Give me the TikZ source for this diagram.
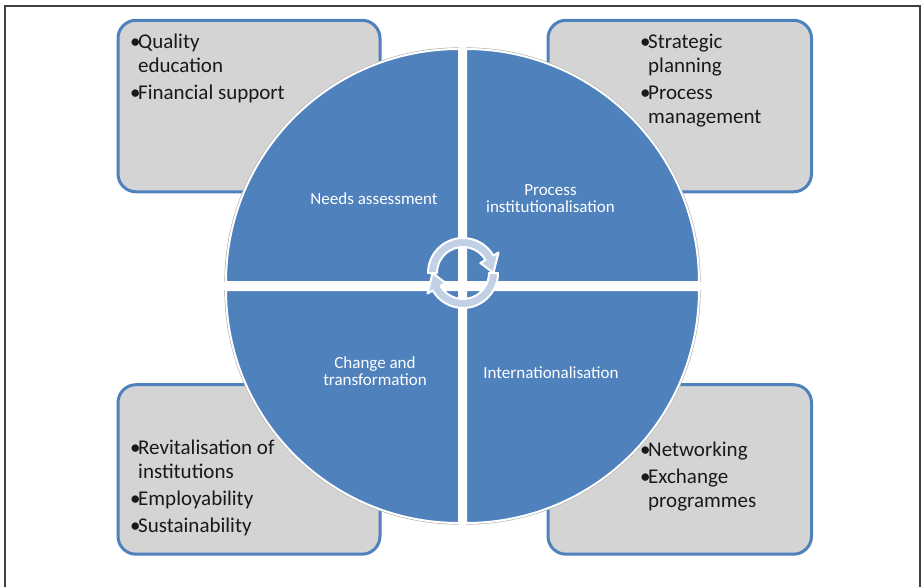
\documentclass[tikz,border=0pt]{standalone}
\usepackage{fontspec}
\setmainfont{Carlito}
\usetikzlibrary{calc}
\definecolor{qblue}{HTML}{4F81BD}
\definecolor{boxblue}{HTML}{4F81BD}
\definecolor{boxgray}{HTML}{D4D4D4}
\definecolor{arrowfill}{HTML}{C2D0E5}
\definecolor{framegray}{HTML}{404040}
\tikzset{
  infobox/.style={draw=boxblue, line width=3pt, fill=boxgray, rounded corners=18pt, inner sep=0pt},
  quad/.style={fill=qblue, draw=white, line width=2pt},
  quadshadow/.style={draw=black!30, line width=3.2pt},
  boxtext/.style={anchor=base west, inner sep=0pt, text=black!90, font=\fontsize{21}{24}\selectfont},
  quadlabel/.style={anchor=base, inner sep=0pt, text=white, font=\fontsize{17}{17.5}\selectfont},
  cycarrow/.style={fill=arrowfill, draw=white, line width=2pt, line join=round}
}
\newcommand{\bul}{\makebox[8pt][l]{•}}
\begin{document}
\begin{tikzpicture}[x=1pt,y=-1pt]
\useasboundingbox (0,0) rectangle (922,587);
\fill[white] (0,0) rectangle (922,587);
\draw[line width=1.3pt, framegray] (5,587) -- (5,6) -- (920,6) -- (920,587);

% boxes
\node[infobox, minimum width=262pt, minimum height=171.5pt, anchor=north west] (tlbox) at (116.5,18.8) {};
\node[infobox, minimum width=263.5pt, minimum height=171.5pt, anchor=north west] (trbox) at (546.5,18.8) {};
\node[infobox, minimum width=262pt, minimum height=169.5pt, anchor=north west] (blbox) at (116.5,383.2) {};
\node[infobox, minimum width=263.5pt, minimum height=169.5pt, anchor=north west] (brbox) at (546.5,383.2) {};

% box texts
\node[boxtext] (tlt) at (130,48) {\begin{tabular}[t]{@{}l@{}l@{}}\bul&Quality\\&education\\[3pt]\bul&Financial support\end{tabular}};
\node[boxtext] (trt) at (640,48) {\begin{tabular}[t]{@{}l@{}l@{}}\bul&Strategic\\&planning\\[3pt]\bul&Process\\&management\end{tabular}};
\node[boxtext] (blt) at (130,454) {\begin{tabular}[t]{@{}l@{}l@{}}\bul&Revitalisation of\\&institutions\\[3pt]\bul&Employability\\[3pt]\bul&Sustainability\end{tabular}};
\node[boxtext] (brt) at (640,456) {\begin{tabular}[t]{@{}l@{}l@{}}\bul&Networking\\[3pt]\bul&Exchange\\&programmes\end{tabular}};

% quadrants
\foreach \cx/\cy/\sa in {459/282/180, 466/282/270, 466/290/0, 459/290/90}{
  \draw[quadshadow] (\cx,\cy) ++(\sa:233) arc[start angle=\sa, end angle=\sa+90, radius=233];
  \path[quad] (\cx,\cy) -- ++(\sa:233) arc[start angle=\sa, end angle=\sa+90, radius=233] -- cycle;
}

% quadrant labels
\node[quadlabel] (needs) at (374,204) {Needs assessment};
\node[quadlabel] (proc) at (550.5,195) {\begin{tabular}[t]{@{}c@{}}Process\\institutionalisation\end{tabular}};
\node[quadlabel] (change) at (375,368) {\begin{tabular}[t]{@{}c@{}}Change and\\transformation\end{tabular}};
\node[quadlabel] (intl) at (551,378) {Internationalisation};

% circular arrows
\coordinate (C) at (463,273);
\path[cycarrow] ($(C)+(-180:35)$) arc[start angle=-180, end angle=-30, radius=35]
  -- ($(C)+(-30:41)$) -- ($(C)+(0:30.5)$) -- ($(C)+(-30:20)$) -- ($(C)+(-30:26)$)
  arc[start angle=-30, end angle=-180, radius=26] -- cycle;
\begin{scope}[rotate around={180:(462.5,285.5)}]
\path[cycarrow] ($(C)+(-180:35)$) arc[start angle=-180, end angle=-30, radius=35]
  -- ($(C)+(-30:41)$) -- ($(C)+(0:30.5)$) -- ($(C)+(-30:20)$) -- ($(C)+(-30:26)$)
  arc[start angle=-30, end angle=-180, radius=26] -- cycle;
\end{scope}
\end{tikzpicture}
\end{document}
